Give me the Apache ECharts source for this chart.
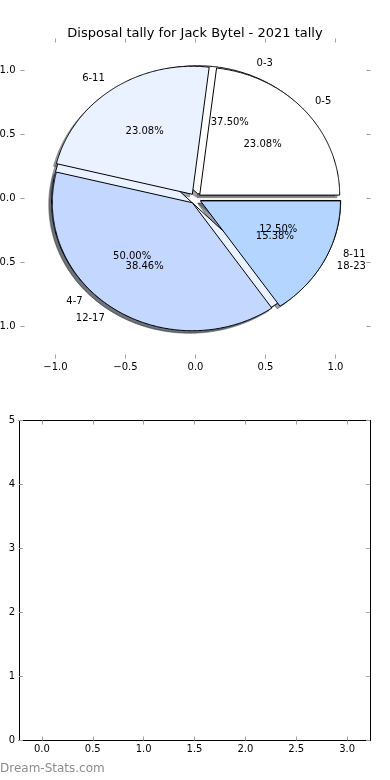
<!DOCTYPE html>
<html>
<head>
<meta charset="utf-8">
<script src="https://cdn.jsdelivr.net/npm/echarts@6/dist/echarts.min.js"></script>
<style>
html,body{margin:0;padding:0;background:#fff;}
#chart{width:390px;height:780px;}
</style>
</head>
<body>
<div id="chart"></div>
<script>
// ---- data ----
const chartTitle = 'Disposal tally for Jack Bytel - 2021 tally';
const pie1Labels = ['0-3', '4-7', '8-11'];
const pie1Values = [3, 4, 1];
const pie2Labels = ['0-5', '6-11', '12-17', '18-23'];
const pie2Values = [3, 3, 5, 2];
const pieTicks = [-1.0, -0.5, 0.0, 0.5, 1.0];
const barTicksX = [0, 0.5, 1, 1.5, 2, 2.5, 3];
const barTicksY = [0, 1, 2, 3, 4, 5];
const watermark = 'Dream-Stats.com';

// ---- style ----
const palette = ['#ffffff', '#eaf2ff', '#c4d8ff', '#b3d5ff'];
const EXPLODE = 0.04;
const SHADOW = 0.02;
const FONT = '"DejaVu Sans", sans-serif';
const TICK = '#a0a0a0';

function wedgeGeom(values, i) {
  const total = values.reduce((a, b) => a + b, 0);
  let acc = 0;
  for (let k = 0; k < i; k++) acc += values[k];
  const a0 = acc / total * Math.PI * 2;
  const a1 = (acc + values[i]) / total * Math.PI * 2;
  const mid = (a0 + a1) / 2;
  return { a0, a1, mid, frac: values[i] / total };
}

function hexRgb(h) {
  return [parseInt(h.slice(1, 3), 16), parseInt(h.slice(3, 5), 16), parseInt(h.slice(5, 7), 16)];
}

function wedgePoints(values, i, api, dx, dy) {
  const g = wedgeGeom(values, i);
  const cx = EXPLODE * Math.cos(g.mid) + dx;
  const cy = EXPLODE * Math.sin(g.mid) + dy;
  const pts = [api.coord([cx, cy])];
  const n = Math.max(2, Math.ceil((g.a1 - g.a0) / (Math.PI / 360)));
  for (let j = 0; j <= n; j++) {
    const a = g.a0 + (g.a1 - g.a0) * j / n;
    pts.push(api.coord([cx + Math.cos(a), cy + Math.sin(a)]));
  }
  return pts;
}

function pieRender(values) {
  return function (params, api) {
    const i = params.dataIndex;
    return {
      type: 'polygon',
      shape: { points: wedgePoints(values, i, api, 0, 0) },
      style: { fill: palette[i % palette.length], stroke: '#000', lineWidth: 1, lineJoin: 'miter' }
    };
  };
}

const shadowItems = [];
pie1Values.forEach((v, i) => shadowItems.push([0, i]));
pie2Values.forEach((v, i) => shadowItems.push([1, i]));

function shadowRender(params, api) {
  const it = shadowItems[params.dataIndex];
  const values = it[0] === 0 ? pie1Values : pie2Values;
  const i = it[1];
  const rgb = hexRgb(palette[i % palette.length]).map(c => Math.round(c * 0.3));
  const col = 'rgba(' + rgb.join(',') + ',0.5)';
  return {
    type: 'polygon',
    shape: { points: wedgePoints(values, i, api, -SHADOW, -SHADOW) },
    style: { fill: col, stroke: col, lineWidth: 1 }
  };
}

function textRender(params, api) {
  const it = shadowItems[params.dataIndex];
  const values = it[0] === 0 ? pie1Values : pie2Values;
  const labels = it[0] === 0 ? pie1Labels : pie2Labels;
  const i = it[1];
  const g = wedgeGeom(values, i);
  const ex = EXPLODE * Math.cos(g.mid), ey = EXPLODE * Math.sin(g.mid);
  const lx = ex + 1.1 * Math.cos(g.mid), ly = ey + 1.1 * Math.sin(g.mid);
  const px = ex + 0.6 * Math.cos(g.mid), py = ey + 0.6 * Math.sin(g.mid);
  const lp = api.coord([lx, ly]);
  const pp = api.coord([px, py]);
  return {
    type: 'group',
    children: [
      { type: 'text', x: lp[0], y: lp[1],
        style: { text: labels[i], fill: '#000', fontSize: 10, fontFamily: FONT,
                 align: lx > 0 ? 'left' : 'right', verticalAlign: 'middle' } },
      { type: 'text', x: pp[0], y: pp[1],
        style: { text: (g.frac * 100).toFixed(2) + '%', fill: '#000', fontSize: 10, fontFamily: FONT,
                 align: 'center', verticalAlign: 'middle' } }
    ]
  };
}

const fmt1 = v => v.toFixed(1).replace('-', '\u2212');
const tickStyle = (vals) => ({ show: true, inside: true, length: 4, lineStyle: { color: TICK, width: 1 }, customValues: vals });
const lbl = (vals, f, margin) => ({ show: true, customValues: vals, formatter: f, color: '#000', fontSize: 10, fontFamily: FONT, margin: margin });
const noLbl = { show: false };
const noLine = { show: false, onZero: false };
const blackLine = { show: true, onZero: false, lineStyle: { color: '#000', width: 1 } };

const chart = echarts.init(document.getElementById('chart'), null, { renderer: 'canvas' });
chart.setOption({
  animation: false,
  backgroundColor: '#ffffff',
  title: {
    text: chartTitle, left: 'center', top: 22,
    textStyle: { fontSize: 13, fontWeight: 'normal', color: '#000', fontFamily: FONT }
  },
  graphic: [{
    type: 'text', left: 0, top: 763,
    style: { text: watermark, fill: '#8c8c8c', fontSize: 12, fontFamily: FONT }
  }],
  grid: [
    { left: 20.5, top: 38.5, width: 350, height: 320, show: false, containLabel: false, outerBoundsMode: 'none' },
    { left: 19, top: 420.5, width: 351, height: 320, show: false, containLabel: false, outerBoundsMode: 'none' }
  ],
  xAxis: [
    { type: 'value', gridIndex: 0, position: 'bottom', min: -1.25, max: 1.25, splitLine: { show: false },
      axisLine: noLine, axisTick: tickStyle(pieTicks), axisLabel: lbl(pieTicks, fmt1, 4) },
    { type: 'value', gridIndex: 0, position: 'top', min: -1.25, max: 1.25, splitLine: { show: false },
      axisLine: noLine, axisTick: tickStyle(pieTicks), axisLabel: noLbl },
    { type: 'value', gridIndex: 1, position: 'bottom', min: -0.225, max: 3.225, splitLine: { show: false },
      axisLine: blackLine, axisTick: tickStyle(barTicksX), axisLabel: lbl(barTicksX, fmt1, 4) },
    { type: 'value', gridIndex: 1, position: 'top', min: -0.225, max: 3.225, splitLine: { show: false },
      axisLine: blackLine, axisTick: tickStyle(barTicksX), axisLabel: noLbl }
  ],
  yAxis: [
    { type: 'value', gridIndex: 0, position: 'left', min: -1.25, max: 1.25, splitLine: { show: false },
      axisLine: noLine, axisTick: tickStyle(pieTicks), axisLabel: lbl(pieTicks, fmt1, 5) },
    { type: 'value', gridIndex: 0, position: 'right', min: -1.25, max: 1.25, splitLine: { show: false },
      axisLine: noLine, axisTick: tickStyle(pieTicks), axisLabel: noLbl },
    { type: 'value', gridIndex: 1, position: 'left', min: 0, max: 5, splitLine: { show: false },
      axisLine: blackLine, axisTick: tickStyle(barTicksY), axisLabel: lbl(barTicksY, v => String(v), 4) },
    { type: 'value', gridIndex: 1, position: 'right', min: 0, max: 5, splitLine: { show: false },
      axisLine: blackLine, axisTick: tickStyle(barTicksY), axisLabel: noLbl }
  ],
  series: [
    { type: 'custom', xAxisIndex: 0, yAxisIndex: 0, z: 1, clip: false, silent: true,
      data: shadowItems.map(d => [0, 0]), renderItem: shadowRender },
    { type: 'custom', xAxisIndex: 0, yAxisIndex: 0, z: 2, clip: false, silent: true,
      data: pie1Values.map(v => [0, v]), renderItem: pieRender(pie1Values) },
    { type: 'custom', xAxisIndex: 0, yAxisIndex: 0, z: 3, clip: false, silent: true,
      data: pie2Values.map(v => [0, v]), renderItem: pieRender(pie2Values) },
    { type: 'custom', xAxisIndex: 0, yAxisIndex: 0, z: 4, clip: false, silent: true,
      data: shadowItems.map(d => [0, 0]), renderItem: textRender },
    { type: 'line', xAxisIndex: 2, yAxisIndex: 2, data: [], silent: true }
  ]
});
</script>
</body>
</html>
